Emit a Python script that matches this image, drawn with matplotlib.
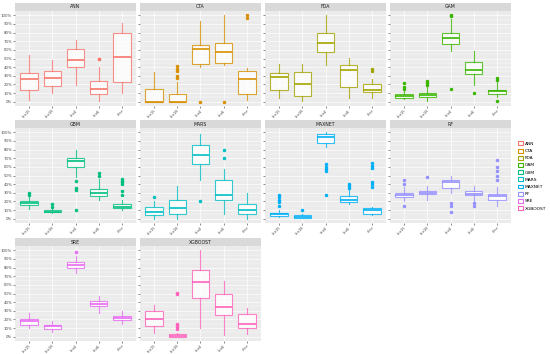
import matplotlib.pyplot as plt
from matplotlib.patches import Patch

# model names and ggplot hue colours
models = ['ANN', 'CTA', 'FDA', 'GAM', 'GBM', 'MARS', 'MAXNET', 'RF', 'SRE', 'XGBOOST']
colors = ['#F8766D', '#D89000', '#A3A500', '#39B600', '#00BF7D',
          '#00BFC4', '#00B0F6', '#9590FF', '#E76BF3', '#FF62BC']
variables = ['bio15', 'bio18', 'bio4', 'bio6', 'elev']

# box stats per variable (percent): [whislo, q1, med, q3, whishi]
ANN_box = [[2, 13.5, 26, 33.5, 54], [10, 18, 28, 36, 48], [19, 40, 48, 61.5, 72],
           [1, 8.5, 15, 24, 40], [10, 23, 52, 80, 91]]
ANN_out = [[], [], [], [49, 50], []]
CTA_box = [[0, 0, 0, 15, 34.6], [0, 0, 0, 9, 23], [40, 43.5, 61.5, 66, 93],
           [42, 45, 57, 68, 100], [2, 9, 26, 36, 39]]
CTA_out = [[], [27, 30, 36, 38, 41], [0], [0], [97, 100]]
FDA_box = [[4, 14, 29, 33, 44], [1, 7, 21, 34, 43.5], [42, 58, 68, 80, 100],
           [4, 17, 36.5, 42, 51], [4, 11, 14, 20, 26]]
FDA_out = [[], [], [], [], [35, 38]]
GAM_box = [[2.7, 4.6, 6.5, 8.5, 12.7], [0.4, 5.8, 8, 10.4, 16.5], [59, 67, 74, 80, 96],
           [19, 32, 36.5, 46, 58.5], [6, 9, 12, 14, 23]]
GAM_out = [[15, 16.5, 22], [19, 22, 24], [15, 99, 100], [10.4], [1, 25, 27]]
GBM_box = [[11, 16, 18, 20, 26], [6.5, 7.3, 8, 10.4, 13], [48, 60, 66.5, 70, 80],
           [22, 26, 30, 34, 46], [9.6, 12, 13.5, 17, 22]]
GBM_out = [[28, 30], [14, 16.5], [9.6, 33.5, 36, 43.5], [50, 53], [28, 32, 40, 42, 44, 46]]
MARS_box = [[0, 4, 8, 13, 20], [0, 6, 12, 22, 38], [45, 63, 74, 85, 98],
            [5, 22, 28, 45, 57], [0, 6, 10, 17, 30]]
MARS_out = [[25], [], [20], [70, 80], []]
MAXNET_box = [[2, 3, 5, 7, 9.6], [0.4, 1, 2, 4, 6], [83, 88, 95, 98, 100],
              [16.5, 19, 22, 26, 33], [4, 5, 9.6, 12, 13.5]]
MAXNET_out = [[15, 19, 22, 25, 28], [9.6], [28, 55, 57, 60, 63], [36, 38, 40],
              [37, 40, 42, 59, 61, 64]]
RF_box = [[20, 25, 27, 30, 37], [22, 29, 30, 32, 38], [30, 36, 42, 45, 50],
          [20, 27, 29, 32, 38], [15, 22, 26, 29, 37]]
RF_out = [[15, 40, 45], [48], [8, 15, 18], [15, 18], [45, 50, 55, 60, 68]]
SRE_box = [[10.4, 14, 18, 21, 27], [5, 8.5, 12, 14, 18], [74, 79, 82.7, 86.5, 93.5],
           [28, 35, 37.7, 41, 47], [15, 19, 22, 24, 30]]
SRE_out = [[], [], [98], [], []]
XGBOOST_box = [[4.6, 12.7, 21, 29.6, 37], [0, 0, 0.5, 3, 4], [10.4, 45, 63, 77, 100],
               [2, 25, 34.6, 50, 64], [2.7, 10.4, 15, 26, 32.7]]
XGBOOST_out = [[], [9, 11, 13, 15, 49, 51], [], [], []]

boxes = [ANN_box, CTA_box, FDA_box, GAM_box, GBM_box, MARS_box, MAXNET_box,
         RF_box, SRE_box, XGBOOST_box]
outs = [ANN_out, CTA_out, FDA_out, GAM_out, GBM_out, MARS_out, MAXNET_out,
        RF_out, SRE_out, XGBOOST_out]

W, H = 550, 354
fig = plt.figure(figsize=(W / 100, H / 100), dpi=100)
fig.patch.set_facecolor('white')

# layout in pixels
col_left = [15, 140, 265, 390]
panel_w = 121
row_top = [3, 120, 238]
strip_h = 8
panel_h = 95

for i, m in enumerate(models):
    r, c = divmod(i, 4)
    x0 = col_left[c]
    y_strip = row_top[r]
    y_panel = y_strip + strip_h
    ax = fig.add_axes([x0 / W, 1 - (y_panel + panel_h) / H, panel_w / W, panel_h / H])
    sax = fig.add_axes([x0 / W, 1 - y_panel / H, panel_w / W, strip_h / H])
    sax.set_facecolor('#D9D9D9')
    sax.set_xticks([]); sax.set_yticks([])
    for s in sax.spines.values():
        s.set_visible(False)
    sax.text(0.5, 0.5, m, ha='center', va='center', fontsize=3.3, color='#1A1A1A',
             transform=sax.transAxes)

    stats = []
    for b, o in zip(boxes[i], outs[i]):
        stats.append(dict(whislo=b[0] / 100, q1=b[1] / 100, med=b[2] / 100,
                          q3=b[3] / 100, whishi=b[4] / 100,
                          fliers=[v / 100 for v in o]))
    col = colors[i]
    ax.bxp(stats, positions=range(1, 6), widths=0.75, patch_artist=True,
           showcaps=False,
           boxprops=dict(facecolor='white', edgecolor=col, linewidth=0.8, alpha=0.8),
           whiskerprops=dict(color=col, linewidth=0.8, alpha=0.8),
           medianprops=dict(color=col, linewidth=1.2),
           flierprops=dict(marker='o', markerfacecolor=col, markeredgecolor=col,
                           markersize=1.5, linestyle='none'))

    ax.set_facecolor('#EBEBEB')
    ax.set_xlim(0.4, 5.6)
    ax.set_ylim(-0.05, 1.05)
    ax.set_yticks([k / 10 for k in range(11)])
    ax.set_yticks([k / 10 + 0.05 for k in range(10)], minor=True)
    ax.set_xticks(range(1, 6))
    ax.set_xticklabels(variables, rotation=45, ha='right', va='top',
                       rotation_mode='anchor', fontsize=2.7, color='#4D4D4D')
    if c == 0:
        ax.set_yticklabels([f'{k * 10}%' for k in range(11)], fontsize=2.8, color='#4D4D4D')
    else:
        ax.set_yticklabels([])
    ax.tick_params(which='major', length=1.4, width=0.4, color='#333333', pad=0.6)
    ax.tick_params(which='minor', length=0)
    ax.grid(which='major', color='white', linewidth=0.5)
    ax.grid(which='minor', axis='y', color='white', linewidth=0.25)
    ax.set_axisbelow(True)
    for s in ax.spines.values():
        s.set_visible(False)

handles = [Patch(facecolor='white', edgecolor=c, linewidth=0.8) for c in colors]
fig.legend(handles, models, loc='center left', bbox_to_anchor=(516 / W, 1 - 176 / H),
           frameon=False, fontsize=3.2, handlelength=1.0, handleheight=1.0,
           labelspacing=0.6, handletextpad=0.5, borderpad=0)

plt.savefig('out.png', dpi=100)
